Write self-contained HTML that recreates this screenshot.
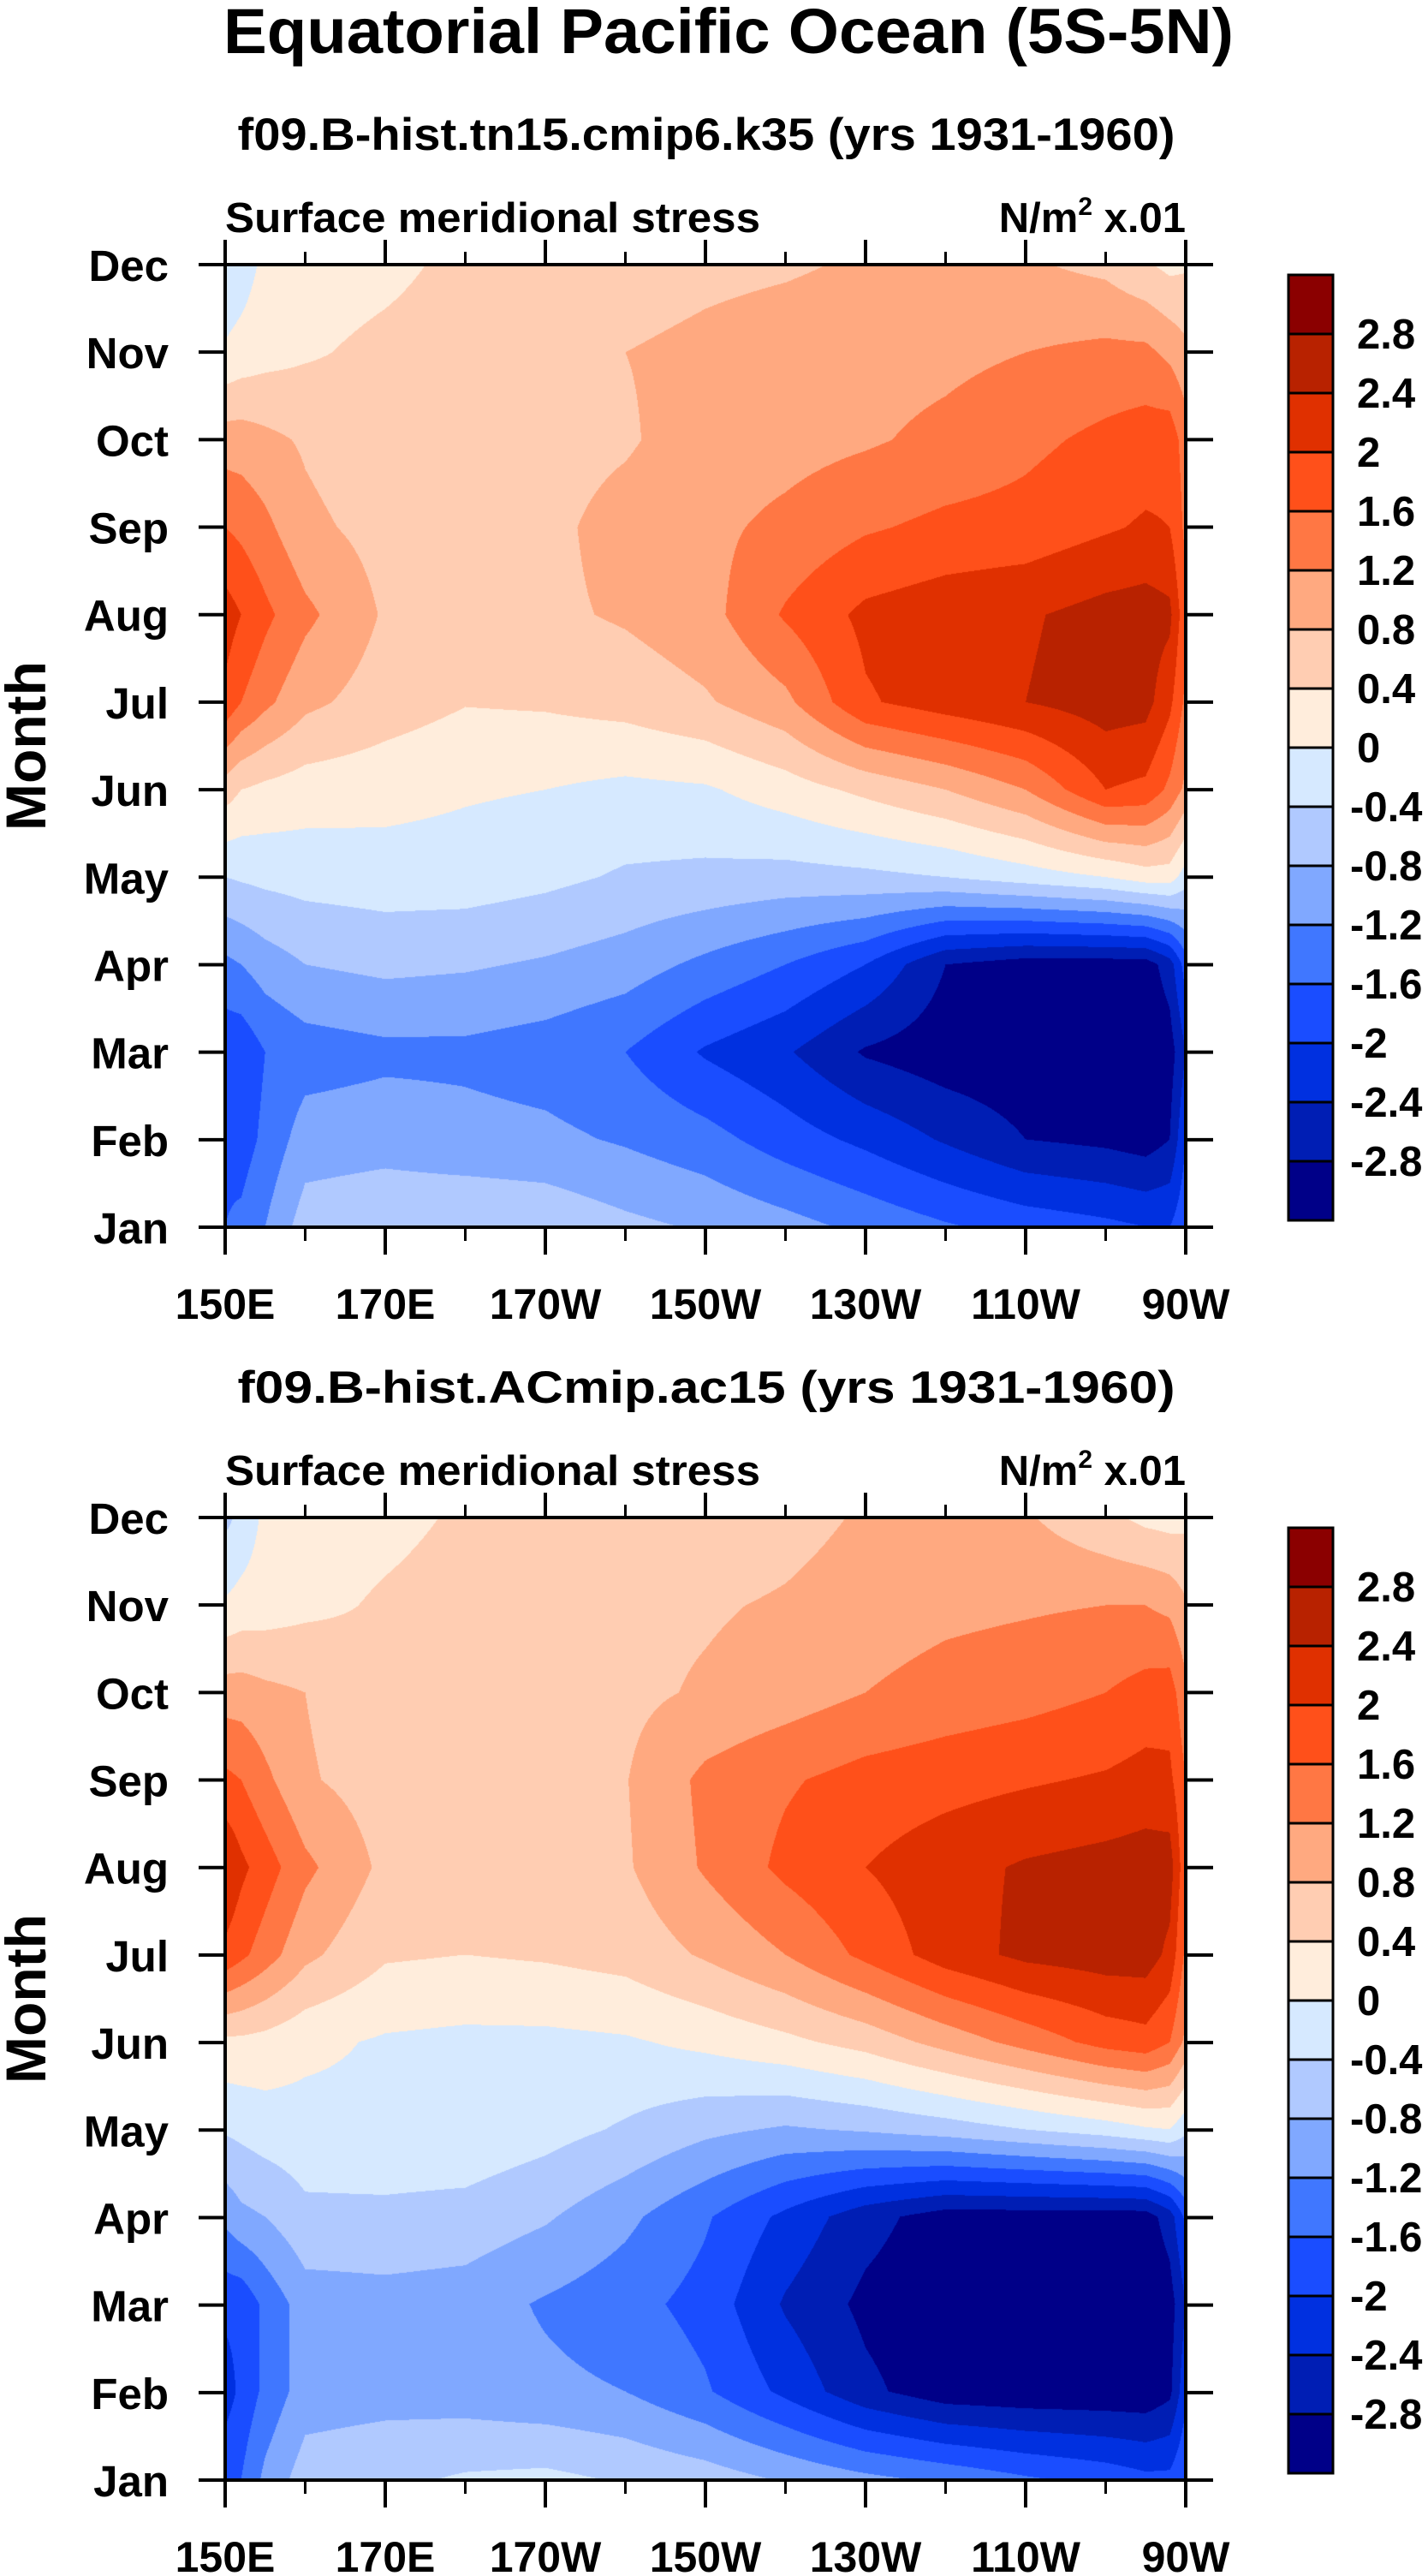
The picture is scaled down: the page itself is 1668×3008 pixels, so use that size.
<!DOCTYPE html>
<html><head><meta charset="utf-8">
<style>
html,body{margin:0;padding:0;background:#fff;}
#wrap{position:relative;width:1668px;height:3008px;overflow:hidden;}
canvas{position:absolute;}
svg{position:absolute;left:0;top:0;}
text{font-family:"Liberation Sans",Arial,sans-serif;font-weight:bold;fill:#000;}
</style></head>
<body>
<div id="wrap">
<canvas id="c1" width="1122" height="1124" style="left:263px;top:309px"></canvas>
<canvas id="c2" width="1122" height="1123" style="left:263px;top:1772px"></canvas>
<svg id="svg" width="1668" height="3008" xmlns="http://www.w3.org/2000/svg">
<text x="851" y="62" font-size="74" text-anchor="middle" textLength="1180" lengthAdjust="spacingAndGlyphs">Equatorial Pacific Ocean (5S-5N)</text>
</svg>
</div>
<script>
// ---- data ----
const lons = [150,152,155,160,170,180,190,200,210,220,230,240,250,260,265,268,270];
const months = ["Jan","Feb","Mar","Apr","May","Jun","Jul","Aug","Sep","Oct","Nov","Dec"];
const levels = [-2.8,-2.4,-2,-1.6,-1.2,-0.8,-0.4,0,0.4,0.8,1.2,1.6,2,2.4,2.8];
const levelLabels = ["-2.8","-2.4","-2","-1.6","-1.2","-0.8","-0.4","0","0.4","0.8","1.2","1.6","2","2.4","2.8"];
const colors = ["#000088","#001eb4","#0030e0","#1a4dff","#4077ff","#80a8ff","#b0c9ff","#d6e9ff","#ffeddc","#ffcdb2","#ffa980","#ff7744","#ff501a","#e03000","#b82200","#8b0000"];
const xTickVals = [150,170,190,210,230,250,270];
const xTickLabels = ["150E","170E","170W","150W","130W","110W","90W"];
const xMinorVals = [160,180,200,220,240,260];
const titles1 = "f09.B-hist.tn15.cmip6.k35 (yrs 1931-1960)";
const titles2 = "f09.B-hist.ACmip.ac15 (yrs 1931-1960)";
// rows: Jan..Dec, columns follow lons
const field1 = [
[-1.6,-1.5,-1.2,-0.6,-0.5,-0.45,-0.5,-0.7,-0.85,-1.05,-1.3,-1.55,-1.75,-1.9,-2.0,-2.0,-1.7],
[-1.7,-1.8,-1.5,-1.0,-0.95,-1.05,-1.1,-1.25,-1.45,-1.8,-2.1,-2.45,-2.8,-2.9,-3.0,-2.8,-2.0],
[-1.9,-1.9,-1.6,-1.4,-1.3,-1.3,-1.4,-1.6,-2.05,-2.35,-2.85,-3.05,-3.1,-3.2,-3.2,-3.0,-2.4],
[-1.3,-1.2,-1.0,-0.8,-0.7,-0.75,-0.85,-1.0,-1.3,-1.6,-2.0,-2.8,-3.0,-3.0,-3.0,-2.6,-1.8],
[-0.4,-0.35,-0.3,-0.25,-0.2,-0.2,-0.3,-0.45,-0.5,-0.55,-0.5,-0.4,-0.2,0.0,0.2,0.2,-0.2],
[0.6,0.4,0.3,0.2,0.15,0.05,0.0,-0.1,-0.05,0.2,0.5,0.8,1.2,2.0,1.9,1.5,1.1],
[1.9,1.6,1.3,0.9,0.6,0.42,0.45,0.55,0.75,1.1,1.95,2.2,2.4,2.6,2.55,2.1,1.5],
[2.2,2.0,1.7,1.3,0.75,0.7,0.72,0.85,1.05,1.65,2.1,2.25,2.35,2.55,2.6,2.5,1.7],
[1.6,1.5,1.3,0.9,0.65,0.65,0.7,0.95,1.1,1.3,1.55,1.7,1.75,1.95,2.05,2.0,1.5],
[1.0,1.0,0.9,0.75,0.5,0.55,0.65,0.75,1.0,1.05,1.15,1.3,1.5,1.7,1.8,1.85,1.4],
[0.05,0.15,0.25,0.35,0.5,0.6,0.7,0.8,0.9,1.0,1.05,1.1,1.2,1.3,1.3,1.1,0.9],
[-0.3,-0.2,0.1,0.2,0.3,0.5,0.6,0.6,0.7,0.75,0.85,0.9,0.85,0.7,0.45,0.3,0.35]
];
const field2 = [
[-1.7,-1.6,-1.1,-0.6,-0.5,-0.35,-0.3,-0.45,-0.6,-0.85,-1.1,-1.3,-1.55,-1.75,-1.9,-1.9,-1.6],
[-2.2,-1.9,-1.5,-1.0,-0.95,-1.0,-1.1,-1.2,-1.55,-2.1,-2.7,-3.05,-3.1,-3.1,-3.1,-2.9,-2.1],
[-1.9,-1.9,-1.5,-1.0,-0.95,-1.0,-1.25,-1.45,-1.75,-2.45,-2.9,-3.1,-3.2,-3.2,-3.2,-3.0,-2.4],
[-1.1,-0.9,-0.8,-0.5,-0.5,-0.55,-0.75,-1.1,-1.55,-2.1,-2.65,-3.0,-3.0,-3.0,-3.0,-2.6,-1.9],
[-0.35,-0.3,-0.2,-0.15,-0.1,-0.1,-0.25,-0.45,-0.7,-0.85,-0.75,-0.6,-0.4,-0.2,-0.05,0.0,-0.3],
[0.3,0.3,0.25,0.1,-0.05,-0.1,-0.1,-0.05,0.1,0.3,0.55,0.95,1.35,1.75,1.85,1.6,1.1],
[1.9,1.7,1.4,0.9,0.45,0.4,0.45,0.55,0.85,1.2,1.7,2.2,2.5,2.6,2.6,2.3,1.5],
[2.4,2.1,1.8,1.3,0.7,0.65,0.7,0.75,1.25,1.7,2.0,2.25,2.45,2.55,2.6,2.6,1.7],
[1.7,1.6,1.3,0.85,0.6,0.6,0.65,0.78,1.3,1.55,1.75,1.85,1.95,2.05,2.15,2.1,1.6],
[1.0,1.0,0.9,0.8,0.5,0.55,0.6,0.7,0.85,1.0,1.2,1.35,1.45,1.6,1.75,1.8,1.3],
[0.05,0.15,0.2,0.3,0.45,0.55,0.62,0.7,0.75,0.85,1.0,1.1,1.15,1.2,1.2,1.1,0.85],
[-0.5,-0.3,0.1,0.2,0.3,0.45,0.5,0.45,0.5,0.65,0.85,0.9,0.85,0.5,0.3,0.25,0.3]
];

const NS = "http://www.w3.org/2000/svg";
const svg = document.getElementById('svg');
const L = 263, R = 1385, PH = 1124;
function xScale(lon){ return L + (lon-150)/120*(R-L); }
function mk(tag, attrs, txt){
  const e = document.createElementNS(NS, tag);
  for (const k in attrs) e.setAttribute(k, attrs[k]);
  if (txt !== undefined) e.textContent = txt;
  svg.appendChild(e);
  return e;
}
function hexRGB(h){ return [parseInt(h.substr(1,2),16),parseInt(h.substr(3,2),16),parseInt(h.substr(5,2),16)]; }
const rgb = colors.map(hexRGB);
function band(v){ let b=0; for (let i=0;i<levels.length;i++){ if (v>=levels[i]) b=i+1; } return b; }

function drawField(canvasId, field){
  const cv = document.getElementById(canvasId);
  const W = cv.width, H = cv.height;
  const ctx = cv.getContext('2d');
  const img = ctx.createImageData(W,H);
  const colIdx = new Int32Array(W), colT = new Float32Array(W);
  for (let px=0; px<W; px++){
    const lon = 150 + (px+0.5)/W*120;
    let i=0; while (i<lons.length-2 && lon>lons[i+1]) i++;
    colIdx[px]=i; colT[px]=Math.min(1,Math.max(0,(lon-lons[i])/(lons[i+1]-lons[i])));
  }
  for (let py=0; py<H; py++){
    const m = (H-1-py)/(H-1)*(months.length-1);
    let j = Math.min(months.length-2, Math.floor(m)); const u = m-j;
    const r0 = field[j], r1 = field[j+1];
    for (let px=0; px<W; px++){
      const i = colIdx[px], t = colT[px];
      const a = r0[i]*(1-t)+r0[i+1]*t, b = r1[i]*(1-t)+r1[i+1]*t;
      const v = a*(1-u)+b*u;
      const c = rgb[band(v)];
      const k = (py*W+px)*4;
      img.data[k]=c[0]; img.data[k+1]=c[1]; img.data[k+2]=c[2]; img.data[k+3]=255;
    }
  }
  ctx.putImageData(img,0,0);
}

function drawPanel(top, subtitle, idx){
  const B = top + PH;
  const yScale = m => B - m/(months.length-1)*(B-top);
  let e;
  e = mk('text',{x:825,y:top-134,'font-size':53,'text-anchor':'middle',textLength:1095,lengthAdjust:'spacingAndGlyphs'},subtitle);
  
  
  e = mk('text',{x:263,y:top-38,'font-size':49,textLength:625,lengthAdjust:'spacingAndGlyphs'},'Surface meridional stress');
  
  
  e = mk('text',{x:1385,y:top-38,'font-size':49,'text-anchor':'end'});
  
  
  e.innerHTML = 'N/m<tspan font-size="30" dy="-20">2</tspan><tspan dy="20"> x.01</tspan>';
  e = mk('rect',{x:L,y:top,width:R-L,height:B-top,fill:'none',stroke:'#000','stroke-width':4});
  
  
  xTickVals.forEach((v,k)=>{
    const x = xScale(v);
    mk('line',{x1:x,y1:top,x2:x,y2:top-29,stroke:'#000','stroke-width':4});
    mk('line',{x1:x,y1:B,x2:x,y2:B+32,stroke:'#000','stroke-width':4});
    const t = mk('text',{x:x,y:B+107,'font-size':50,'text-anchor':'middle'},xTickLabels[k]);
    
    
  });
  xMinorVals.forEach(v=>{
    const x = xScale(v);
    mk('line',{x1:x,y1:top,x2:x,y2:top-15,stroke:'#000','stroke-width':3});
    mk('line',{x1:x,y1:B,x2:x,y2:B+16,stroke:'#000','stroke-width':3});
  });
  months.forEach((mn,m)=>{
    const y = yScale(m);
    mk('line',{x1:L-31,y1:y,x2:L,y2:y,stroke:'#000','stroke-width':4});
    mk('line',{x1:R,y1:y,x2:R+32,y2:y,stroke:'#000','stroke-width':4});
    const t = mk('text',{x:197,y:y+19,'font-size':51,'text-anchor':'end'},mn);
    
    
  });
  e = mk('text',{x:0,y:0,'font-size':66,'text-anchor':'middle',transform:'translate(53,'+((top+B)/2)+') rotate(-90)'},'Month');
  
  
  const cbTop = top + 12, bh = 69, cx = 1505, cw = 52;
  for (let i=0;i<colors.length;i++){
    const y = cbTop + (colors.length-1-i)*bh;
    const r = mk('rect',{x:cx,y:y,width:cw,height:bh,fill:colors[i],stroke:'#000','stroke-width':3});
    
    
  }
  levelLabels.forEach((lb,i)=>{
    const y = cbTop + (colors.length-1-i)*bh;
    const neg = lb.charAt(0)==='-';
    const t = mk('text',{x:neg?1577:1585,y:y+17,'font-size':49},lb);
    
    
  });
}
drawField('c1', field1);
drawField('c2', field2);
drawPanel(309, titles1, 1);
drawPanel(1772, titles2, 2);
</script>
</body></html>
